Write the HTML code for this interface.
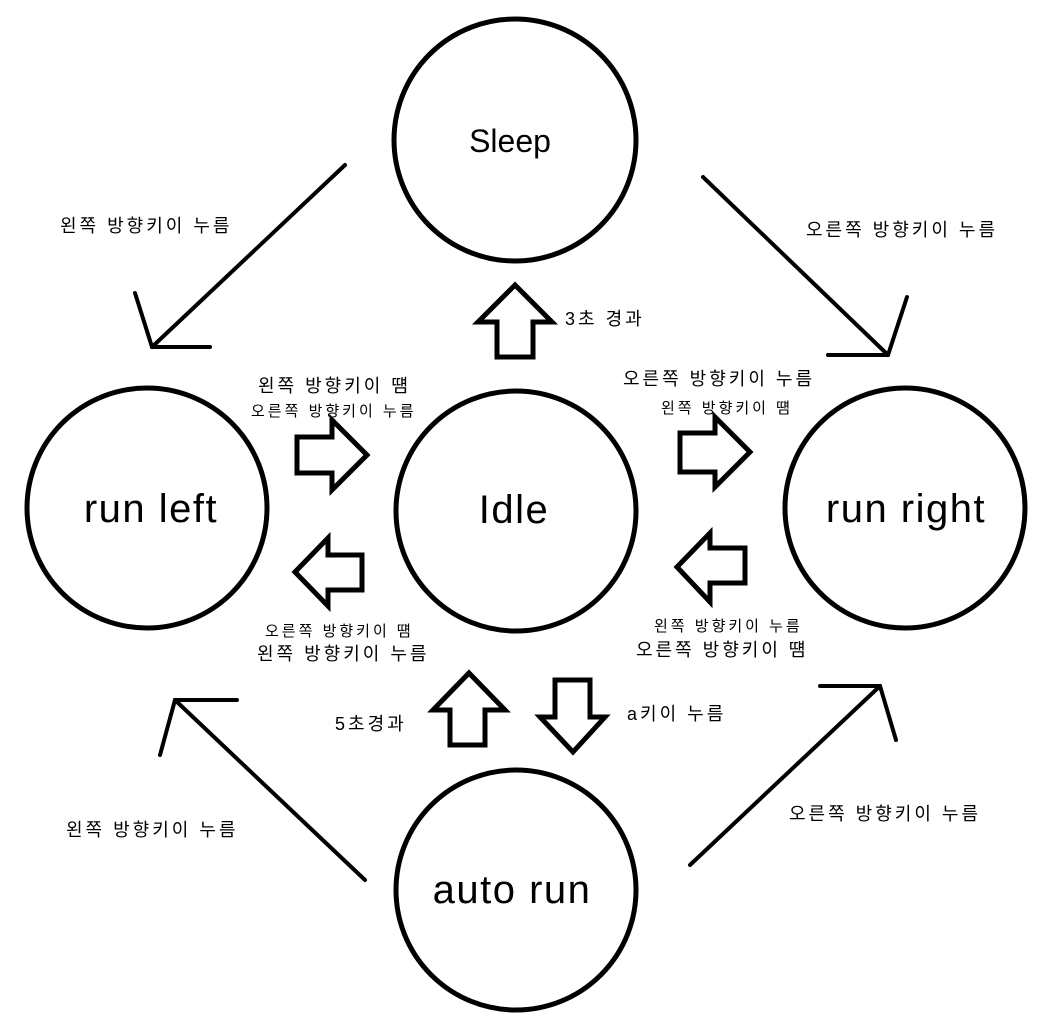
<!DOCTYPE html>
<html><head><meta charset="utf-8"><style>
html,body{margin:0;padding:0;background:#fff;}
svg{display:block}
text{font-family:"Liberation Sans","Noto Sans CJK KR","NanumGothic",sans-serif;fill:#000;}
.k{letter-spacing:3px}
.b{font-size:40px;letter-spacing:1.5px}
</style></head><body>
<svg width="1055" height="1025" viewBox="0 0 1055 1025" xmlns="http://www.w3.org/2000/svg">
<g fill="none" stroke="#000" stroke-width="5">
<circle cx="515" cy="140" r="121"/>
<circle cx="516" cy="511" r="120"/>
<circle cx="147" cy="508" r="120"/>
<circle cx="905" cy="508" r="120"/>
<circle cx="516" cy="890" r="120"/>
</g>
<g fill="none" stroke="#000" stroke-width="5" stroke-linejoin="miter" stroke-linecap="round">
<polygon points="515,285 552,322 533,322 533,357 497,357 497,322 478,322"/>
<polygon points="367,455 332,420 332,437 297,437 297,473 332,473 332,490"/>
<polygon points="750,452 715,417 715,433 680,433 680,472 715,472 715,487"/>
<polygon points="295,572 328,538 328,555 362,555 362,590 328,590 328,606"/>
<polygon points="677,567 710,533 710,548 745,548 745,583 710,583 710,602"/>
<polygon points="469,673 505,710 485,710 485,745 450,745 450,710 433,710"/>
<polygon points="573,752 605,717 590,717 590,680 555,680 555,717 540,717"/>
</g>
<g fill="none" stroke="#000" stroke-width="4" stroke-linecap="round">
<line x1="345" y1="165" x2="152" y2="347"/>
<polyline points="135,293 152,347 210,347"/>
<line x1="703" y1="177" x2="888" y2="355"/>
<polyline points="907,297 888,355 828,355"/>
<line x1="365" y1="880" x2="175" y2="700"/>
<polyline points="160,755 175,700 237,700"/>
<line x1="690" y1="865" x2="880" y2="686"/>
<polyline points="820,686 880,686 896,740"/>
</g>
<g text-anchor="middle">
<text x="510" y="152" font-size="32">Sleep</text>
<text x="514" y="523" class="b">Idle</text>
<text x="151" y="522" class="b">run left</text>
<text x="906" y="522" class="b">run right</text>
<text x="512" y="903" class="b">auto run</text>
</g>
<g font-size="18" class="k">
<text x="60" y="232">왼쪽 방향키이 누름</text>
<text x="806" y="236">오른쪽 방향키이 누름</text>
<text x="565" y="325">3초 경과</text>
<text x="258" y="392">왼쪽 방향키이 떔</text>
<text x="623" y="385">오른쪽 방향키이 누름</text>
<text x="257" y="660">왼쪽 방향키이 누름</text>
<text x="636" y="656">오른쪽 방향키이 떔</text>
<text x="335" y="730">5초경과</text>
<text x="627" y="720">a키이 누름</text>
<text x="66" y="836">왼쪽 방향키이 누름</text>
<text x="789" y="820">오른쪽 방향키이 누름</text>
</g>
<g font-size="15" class="k">
<text x="251" y="416">오른쪽 방향키이 누름</text>
<text x="661" y="413">왼쪽 방향키이 떔</text>
<text x="265" y="636">오른쪽 방향키이 떔</text>
<text x="654" y="631">왼쪽 방향키이 누름</text>
</g>
</svg>
</body></html>
